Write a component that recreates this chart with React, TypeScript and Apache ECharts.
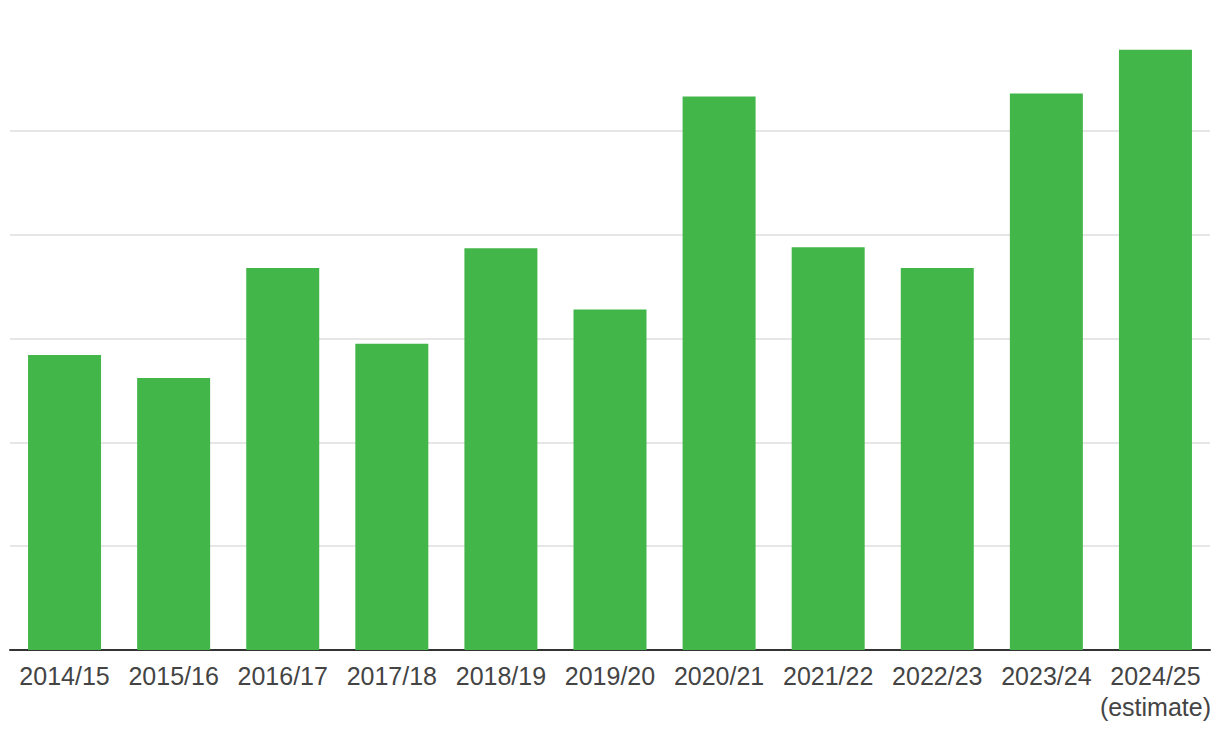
import React, { useEffect, useRef } from "react";
import * as echarts from "echarts";

const categories = [
  "2014/15",
  "2015/16",
  "2016/17",
  "2017/18",
  "2018/19",
  "2019/20",
  "2020/21",
  "2021/22",
  "2022/23",
  "2023/24",
  "2024/25\n(estimate)",
];
const values = [2.84, 2.62, 3.68, 2.95, 3.87, 3.28, 5.33, 3.88, 3.68, 5.36, 5.78];

export default function App() {
  const ref = useRef<HTMLDivElement>(null);
  useEffect(() => {
    if (!ref.current) return;
    const chart = echarts.init(ref.current, null, { renderer: "svg" });
    chart.setOption({
      animation: false,
      backgroundColor: "#ffffff",
      grid: { left: 10, right: 10, top: 27, bottom: 86, containLabel: false },
      xAxis: {
        type: "category",
        data: categories,
        axisLine: { show: true, lineStyle: { color: "#333333", width: 2 } },
        axisTick: { show: false },
        axisLabel: {
          color: "#444444",
          fontSize: 25,
          fontFamily: "Liberation Sans, Arial, sans-serif",
          margin: 10,
          lineHeight: 31,
          interval: 0,
        },
      },
      yAxis: {
        type: "value",
        min: 0,
        max: 6,
        interval: 1,
        axisLine: { show: false },
        axisTick: { show: false },
        axisLabel: { show: false },
        splitLine: {
          show: true,
          showMaxLine: false,
          lineStyle: { color: "#e6e6e6", width: 2 },
        },
      },
      series: [
        {
          type: "bar",
          data: values,
          barWidth: 73,
          itemStyle: { color: "#43b64a" },
        },
      ],
    });
    return () => chart.dispose();
  }, []);
  return (
    <div
      ref={ref}
      style={{ position: "fixed", left: 0, top: 0, width: 1220, height: 736 }}
    />
  );
}
